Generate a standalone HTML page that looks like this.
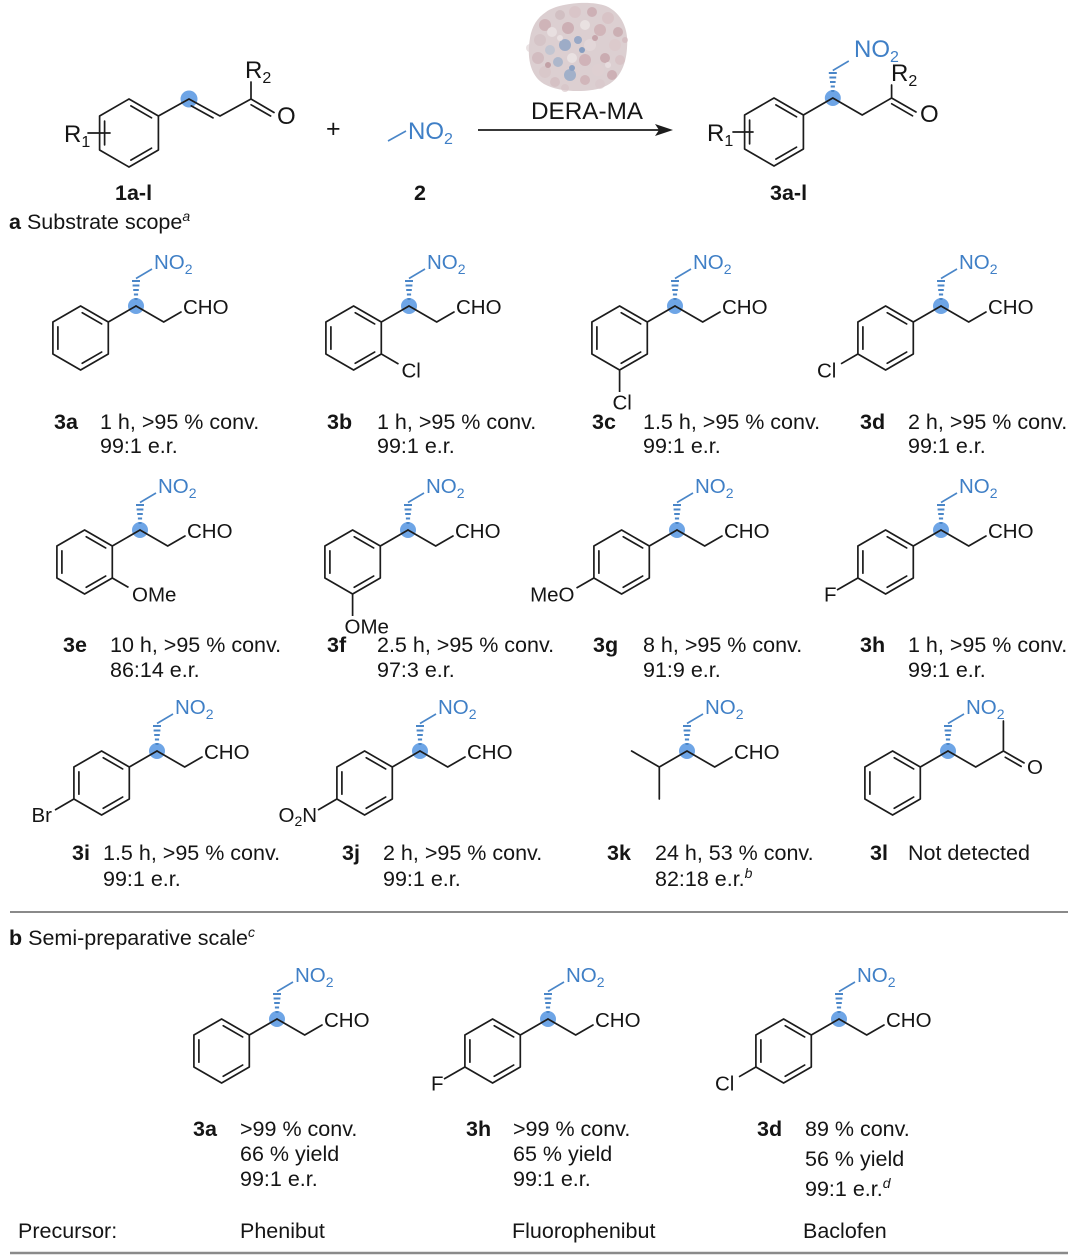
<!DOCTYPE html>
<html><head><meta charset="utf-8"><style>
html,body{margin:0;padding:0;background:#fff;}
svg{display:block;}
text{font-family:"Liberation Sans",Arial,sans-serif;fill:#151515;}
.t{font-size:21.5px;}
.b{font-size:21.5px;font-weight:bold;}
.s{font-size:20.5px;}
.n{font-size:20.5px;fill:#3f7fc6;}
.L{font-size:24px;}
</style></head><body>
<svg width="1073" height="1256" viewBox="0 0 1073 1256" xmlns="http://www.w3.org/2000/svg">
<defs>
<g id="ring"><path d="M-55.4,0 L-27.7,16 L-27.7,48 L-55.4,64 L-83.1,48 L-83.1,16 Z M-53.75,6.73 L-34.36,17.93 M-34.36,46.07 L-53.75,57.27 M-78.1,20.8 L-78.1,43.2 M-27.7,16 L0,0" fill="none" stroke="#1c1c1c" stroke-width="1.7" stroke-linejoin="round" stroke-linecap="round"/></g>
<g id="dw"><circle r="8" fill="#6ea5e6"/><path d="M-1.5,-7H1.5M-2.1,-11.5H2.1M-2.8,-16H2.8M-3.4,-20.5H3.4M-4,-25H4" stroke="#4a86c8" stroke-width="1.9" fill="none"/><path d="M0,-27.5L16,-37" stroke="#4a86c8" stroke-width="1.6" fill="none"/></g>
<path id="cho" d="M0,0 L27.7,16 L45,6" fill="none" stroke="#1c1c1c" stroke-width="1.7" stroke-linejoin="round" stroke-linecap="round"/>
</defs>

<!-- ===== Top scheme ===== -->
<circle cx="189" cy="99" r="8.5" fill="#6ea5e6"/>
<g fill="none" stroke="#1c1c1c" stroke-width="1.7" stroke-linejoin="round" stroke-linecap="round">
<path d="M129,99 L158.4,116 L158.4,150 L129,167 L99.6,150 L99.6,116 Z M130.9,105.9 L151.5,117.8 M151.5,148.2 L130.9,160.1 M104.6,121.1 L104.6,144.9"/>
<path d="M88,133 L110,133"/>
<path d="M158.4,116 L189,99 L220,116 L251,99 L251,82 M191.3,105.9 L213,117.9 M251,99 L274,112.5 M251.1,104.8 L270.6,116"/>
</g>
<text class="L" x="64" y="142">R<tspan font-size="16" dy="5">1</tspan></text>
<text class="L" x="245" y="78">R<tspan font-size="16" dy="5">2</tspan></text>
<text class="L" x="277" y="124">O</text>
<text x="326" y="137" font-size="25">+</text>
<path d="M388,141 L406,131" stroke="#4a86c8" stroke-width="1.6" fill="none"/>
<text class="L" x="408" y="139" style="fill:#3f7fc6">NO<tspan font-size="16" dy="5">2</tspan></text>
<text class="b" x="115" y="200">1a-l</text>
<text class="b" x="414" y="200">2</text>

<!-- protein -->
<g>
<path d="M546,12 C558,3 590,0 606,6 C622,13 629,30 627,48 C626,66 619,82 601,88 C585,93 558,92 544,84 C529,75 527,55 530,38 C532,26 537,18 546,12 Z" fill="#dccfd1"/>
<g opacity="0.6">
<circle cx="545" cy="25" r="6" fill="#c7a3a9"/><circle cx="560" cy="15" r="5" fill="#cbb6b9"/><circle cx="575" cy="12" r="6" fill="#d8c0c3"/><circle cx="592" cy="12" r="5" fill="#c49da4"/><circle cx="608" cy="18" r="6" fill="#d6bcc0"/><circle cx="618" cy="32" r="5" fill="#c09aa0"/><circle cx="540" cy="40" r="6" fill="#d2bec1"/><circle cx="552" cy="32" r="5" fill="#f0eaea"/><circle cx="568" cy="28" r="6" fill="#c29aa1"/><circle cx="585" cy="25" r="5" fill="#f2eded"/><circle cx="600" cy="30" r="6" fill="#caa4aa"/><circle cx="615" cy="45" r="6" fill="#dcc7ca"/><circle cx="538" cy="58" r="6" fill="#cdb0b5"/><circle cx="550" cy="50" r="5" fill="#b2bfd2"/><circle cx="565" cy="45" r="6" fill="#7496c2"/><circle cx="578" cy="40" r="4" fill="#6b8fc0"/><circle cx="590" cy="45" r="6" fill="#e6dcdd"/><circle cx="605" cy="58" r="5" fill="#bf959c"/><circle cx="620" cy="60" r="5" fill="#d6bcc0"/><circle cx="545" cy="72" r="6" fill="#d8c4c7"/><circle cx="558" cy="62" r="5" fill="#8ea8c8"/><circle cx="572" cy="58" r="5" fill="#f2eded"/><circle cx="585" cy="60" r="6" fill="#c9a2a9"/><circle cx="598" cy="70" r="6" fill="#e0d0d2"/><circle cx="612" cy="75" r="5" fill="#c49ca3"/><circle cx="555" cy="82" r="5" fill="#d2b9bd"/><circle cx="570" cy="75" r="6" fill="#7b9cc5"/><circle cx="585" cy="80" r="5" fill="#cba6ac"/><circle cx="600" cy="84" r="5" fill="#dac8cb"/><circle cx="565" cy="88" r="4" fill="#d6c3c6"/><circle cx="582" cy="50" r="3" fill="#4f7db5"/><circle cx="572" cy="68" r="3" fill="#5a85bb"/><circle cx="560" cy="38" r="3" fill="#f2ecec"/><circle cx="595" cy="38" r="3" fill="#b98a92"/><circle cx="548" cy="65" r="3" fill="#b1838b"/><circle cx="608" cy="65" r="3" fill="#efe6e7"/><circle cx="530" cy="48" r="4" fill="#ddd0d2"/><circle cx="625" cy="40" r="3" fill="#d1b4b9"/>
</g>
</g>
<text x="531" y="119" font-size="24" textLength="112" lengthAdjust="spacingAndGlyphs">DERA-MA</text>
<path d="M478,130 L660,130" stroke="#1c1c1c" stroke-width="1.7"/>
<polygon points="673,130 655,124 659,130 655,136" fill="#1c1c1c"/>

<!-- product 3a-l -->
<use href="#dw" x="832.8" y="98"/>
<g fill="none" stroke="#1c1c1c" stroke-width="1.7" stroke-linejoin="round" stroke-linecap="round">
<path d="M774,98 L803.4,115 L803.4,149 L774,166 L744.6,149 L744.6,115 Z M775.9,104.9 L796.5,116.8 M796.5,147.2 L775.9,159.1 M749.6,120.1 L749.6,143.9"/>
<path d="M733,132 L753,132"/>
<path d="M803.4,115 L832.8,98 L862.2,115 L891.6,98 L891.6,85 M891.6,98 L916,112 M891.7,103.8 L912.5,115.8"/>
</g>
<text class="L" x="707" y="141">R<tspan font-size="16" dy="5">1</tspan></text>
<text class="L" x="891" y="81">R<tspan font-size="16" dy="5">2</tspan></text>
<text class="L" x="920" y="122">O</text>
<text class="L" x="854" y="57" style="fill:#3f7fc6">NO<tspan font-size="16" dy="5">2</tspan></text>
<text class="b" x="770" y="200">3a-l</text>

<text class="t" x="9" y="229"><tspan font-weight="bold">a</tspan> Substrate scope<tspan font-size="14" dy="-8" font-style="italic">a</tspan></text>

<!-- ===== Row 1 (cy=306) ===== -->
<use href="#dw" x="136" y="306"/><use href="#ring" x="136" y="306"/><use href="#cho" x="136" y="306"/>
<text class="n" x="154" y="269">NO<tspan font-size="14" dy="5">2</tspan></text><text class="s" x="183" y="314">CHO</text>

<use href="#dw" x="409" y="306"/><use href="#ring" x="409" y="306"/><use href="#cho" x="409" y="306"/>
<text class="n" x="427" y="269">NO<tspan font-size="14" dy="5">2</tspan></text><text class="s" x="456" y="314">CHO</text>
<path d="M381.3,354 L398.5,364" stroke="#1c1c1c" stroke-width="1.7"/><text class="s" x="401.5" y="377.5">Cl</text>

<use href="#dw" x="675" y="306"/><use href="#ring" x="675" y="306"/><use href="#cho" x="675" y="306"/>
<text class="n" x="693" y="269">NO<tspan font-size="14" dy="5">2</tspan></text><text class="s" x="722" y="314">CHO</text>
<path d="M619.6,370 L619.6,392" stroke="#1c1c1c" stroke-width="1.7"/><text class="s" x="612.5" y="409.5">Cl</text>

<use href="#dw" x="941" y="306"/><use href="#ring" x="941" y="306"/><use href="#cho" x="941" y="306"/>
<text class="n" x="959" y="269">NO<tspan font-size="14" dy="5">2</tspan></text><text class="s" x="988" y="314">CHO</text>
<path d="M857.9,354 L841,363.8" stroke="#1c1c1c" stroke-width="1.7"/><text class="s" x="817" y="377.5">Cl</text>

<text class="b" x="54" y="429">3a</text><text class="t" x="100" y="429">1 h, &gt;95 % conv.</text><text class="t" x="100" y="453">99:1 e.r.</text>
<text class="b" x="327" y="429">3b</text><text class="t" x="377" y="429">1 h, &gt;95 % conv.</text><text class="t" x="377" y="453">99:1 e.r.</text>
<text class="b" x="592" y="429">3c</text><text class="t" x="643" y="429">1.5 h, &gt;95 % conv.</text><text class="t" x="643" y="453">99:1 e.r.</text>
<text class="b" x="860" y="429">3d</text><text class="t" x="908" y="429">2 h, &gt;95 % conv.</text><text class="t" x="908" y="453">99:1 e.r.</text>

<!-- ===== Row 2 (cy=530) ===== -->
<use href="#dw" x="140" y="530"/><use href="#ring" x="140" y="530"/><use href="#cho" x="140" y="530"/>
<text class="n" x="158" y="493">NO<tspan font-size="14" dy="5">2</tspan></text><text class="s" x="187" y="538">CHO</text>
<path d="M112.3,578 L128.5,587.4" stroke="#1c1c1c" stroke-width="1.7"/><text class="s" x="132" y="601.5">OMe</text>

<use href="#dw" x="408" y="530"/><use href="#ring" x="408" y="530"/><use href="#cho" x="408" y="530"/>
<text class="n" x="426" y="493">NO<tspan font-size="14" dy="5">2</tspan></text><text class="s" x="455" y="538">CHO</text>
<path d="M352.6,594 L352.6,616" stroke="#1c1c1c" stroke-width="1.7"/><text class="s" x="344.5" y="633.5">OMe</text>

<use href="#dw" x="677" y="530"/><use href="#ring" x="677" y="530"/><use href="#cho" x="677" y="530"/>
<text class="n" x="695" y="493">NO<tspan font-size="14" dy="5">2</tspan></text><text class="s" x="724" y="538">CHO</text>
<path d="M593.9,578 L576.5,588" stroke="#1c1c1c" stroke-width="1.7"/><text class="s" x="574.5" y="601.5" text-anchor="end">MeO</text>

<use href="#dw" x="941" y="530"/><use href="#ring" x="941" y="530"/><use href="#cho" x="941" y="530"/>
<text class="n" x="959" y="493">NO<tspan font-size="14" dy="5">2</tspan></text><text class="s" x="988" y="538">CHO</text>
<path d="M857.9,578 L837,590" stroke="#1c1c1c" stroke-width="1.7"/><text class="s" x="824" y="601.5">F</text>

<text class="b" x="63" y="652">3e</text><text class="t" x="110" y="652">10 h, &gt;95 % conv.</text><text class="t" x="110" y="677">86:14 e.r.</text>
<text class="b" x="327" y="652">3f</text><text class="t" x="377" y="652">2.5 h, &gt;95 % conv.</text><text class="t" x="377" y="677">97:3 e.r.</text>
<text class="b" x="593" y="652">3g</text><text class="t" x="643" y="652">8 h, &gt;95 % conv.</text><text class="t" x="643" y="677">91:9 e.r.</text>
<text class="b" x="860" y="652">3h</text><text class="t" x="908" y="652">1 h, &gt;95 % conv.</text><text class="t" x="908" y="677">99:1 e.r.</text>

<!-- ===== Row 3 (cy=751) ===== -->
<use href="#dw" x="157" y="751"/><use href="#ring" x="157" y="751"/><use href="#cho" x="157" y="751"/>
<text class="n" x="175" y="714">NO<tspan font-size="14" dy="5">2</tspan></text><text class="s" x="204" y="759">CHO</text>
<path d="M73.9,799 L55,810" stroke="#1c1c1c" stroke-width="1.7"/><text class="s" x="52" y="822" text-anchor="end">Br</text>

<use href="#dw" x="420" y="751"/><use href="#ring" x="420" y="751"/><use href="#cho" x="420" y="751"/>
<text class="n" x="438" y="714">NO<tspan font-size="14" dy="5">2</tspan></text><text class="s" x="467" y="759">CHO</text>
<path d="M336.9,799 L318,810" stroke="#1c1c1c" stroke-width="1.7"/><text class="s" x="278.5" y="822">O<tspan font-size="14" dy="4">2</tspan><tspan dy="-4">N</tspan></text>

<use href="#dw" x="687" y="751"/>
<path d="M631.6,751 L659.3,767 L687,751 L714.7,767 L732,757 M659.3,767 L659.3,799" fill="none" stroke="#1c1c1c" stroke-width="1.7" stroke-linejoin="round" stroke-linecap="round"/>
<text class="n" x="705" y="714">NO<tspan font-size="14" dy="5">2</tspan></text><text class="s" x="734" y="759">CHO</text>

<use href="#dw" x="948" y="751"/><use href="#ring" x="948" y="751"/>
<path d="M948,751 L975.7,767 L1003.4,751 L1003.4,721 M1003.4,751 L1024,762.9 M1005.3,757.3 L1021.1,766.4" fill="none" stroke="#1c1c1c" stroke-width="1.7" stroke-linejoin="round" stroke-linecap="round"/>
<text class="n" x="966" y="714">NO<tspan font-size="14" dy="5">2</tspan></text><text class="s" x="1027" y="774">O</text>

<text class="b" x="72" y="860">3i</text><text class="t" x="103" y="860">1.5 h, &gt;95 % conv.</text><text class="t" x="103" y="886">99:1 e.r.</text>
<text class="b" x="342" y="860">3j</text><text class="t" x="383" y="860">2 h, &gt;95 % conv.</text><text class="t" x="383" y="886">99:1 e.r.</text>
<text class="b" x="607" y="860">3k</text><text class="t" x="655" y="860">24 h, 53 % conv.</text><text class="t" x="655" y="886">82:18 e.r.<tspan font-size="14" dy="-8" font-style="italic">b</tspan></text>
<text class="b" x="870" y="860">3l</text><text class="t" x="908" y="860">Not detected</text>

<line x1="10" y1="912" x2="1068" y2="912" stroke="#8a8a8a" stroke-width="2"/>
<text class="t" x="9" y="945"><tspan font-weight="bold">b</tspan> Semi-preparative scale<tspan font-size="14" dy="-8" font-style="italic">c</tspan></text>

<!-- ===== Row b (cy=1019) ===== -->
<use href="#dw" x="277" y="1019"/><use href="#ring" x="277" y="1019"/><use href="#cho" x="277" y="1019"/>
<text class="n" x="295" y="982">NO<tspan font-size="14" dy="5">2</tspan></text><text class="s" x="324" y="1027">CHO</text>

<use href="#dw" x="548" y="1019"/><use href="#ring" x="548" y="1019"/><use href="#cho" x="548" y="1019"/>
<text class="n" x="566" y="982">NO<tspan font-size="14" dy="5">2</tspan></text><text class="s" x="595" y="1027">CHO</text>
<path d="M464.9,1067 L444,1079" stroke="#1c1c1c" stroke-width="1.7"/><text class="s" x="431" y="1090.5">F</text>

<use href="#dw" x="839" y="1019"/><use href="#ring" x="839" y="1019"/><use href="#cho" x="839" y="1019"/>
<text class="n" x="857" y="982">NO<tspan font-size="14" dy="5">2</tspan></text><text class="s" x="886" y="1027">CHO</text>
<path d="M755.9,1067 L739,1076.8" stroke="#1c1c1c" stroke-width="1.7"/><text class="s" x="715" y="1090.5">Cl</text>

<text class="b" x="193" y="1136">3a</text><text class="t" x="240" y="1136">&gt;99 % conv.</text><text class="t" x="240" y="1161">66 % yield</text><text class="t" x="240" y="1186">99:1 e.r.</text>
<text class="b" x="466" y="1136">3h</text><text class="t" x="513" y="1136">&gt;99 % conv.</text><text class="t" x="513" y="1161">65 % yield</text><text class="t" x="513" y="1186">99:1 e.r.</text>
<text class="b" x="757" y="1136">3d</text><text class="t" x="805" y="1136">89 % conv.</text><text class="t" x="805" y="1166">56 % yield</text><text class="t" x="805" y="1196">99:1 e.r.<tspan font-size="14" dy="-8" font-style="italic">d</tspan></text>

<text class="t" x="18" y="1238">Precursor:</text>
<text class="t" x="240" y="1238">Phenibut</text>
<text class="t" x="512" y="1238">Fluorophenibut</text>
<text class="t" x="803" y="1238">Baclofen</text>
<line x1="10" y1="1253" x2="1068" y2="1253" stroke="#8a8a8a" stroke-width="2.5"/>
</svg>
</body></html>
